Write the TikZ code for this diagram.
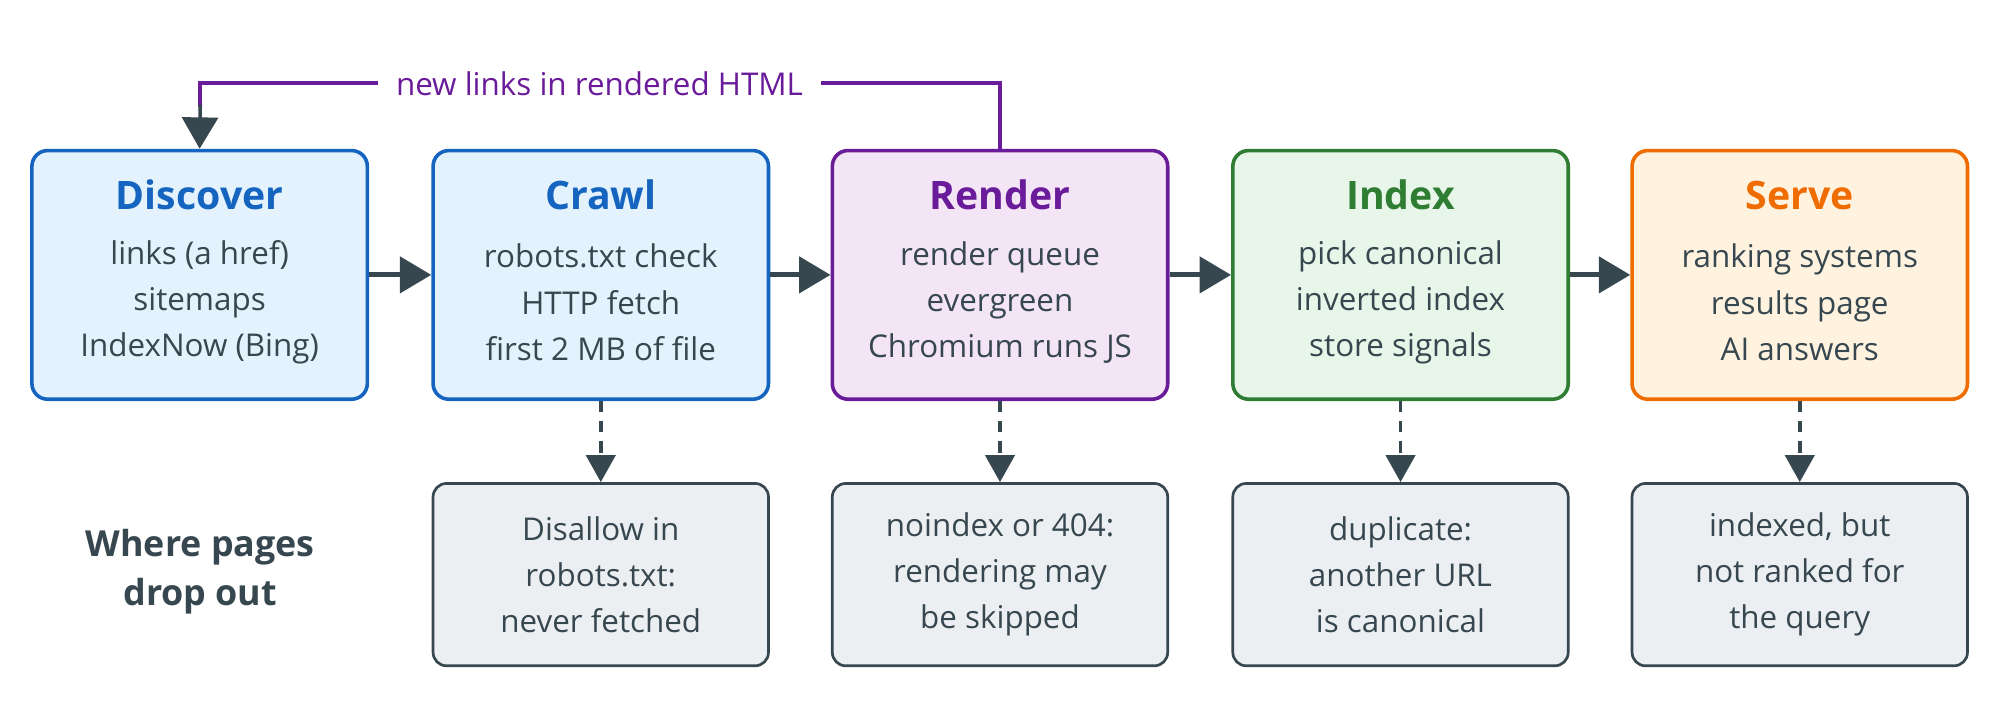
\documentclass[tikz,border=0pt]{standalone}
\usepackage{fontspec}
\setmainfont{Open Sans}
\usetikzlibrary{arrows.meta}
\definecolor{dk}{HTML}{37474F}
\definecolor{bl}{HTML}{1565C0}\definecolor{blf}{HTML}{E3F2FD}
\definecolor{pu}{HTML}{6A1B9A}\definecolor{puf}{HTML}{F3E5F5}
\definecolor{gr}{HTML}{2E7D32}\definecolor{grf}{HTML}{E8F5E9}
\definecolor{or}{HTML}{EF6C00}\definecolor{orf}{HTML}{FFF3E0}
\definecolor{gyf}{HTML}{ECEFF1}
\begin{document}
\begin{tikzpicture}[x=0.02cm,y=-0.02cm,
  stage/.style={draw=#1,line width=1.6pt,rounded corners=7pt,minimum width=5.26cm,minimum height=3.9cm},
  drop/.style={draw=dk,fill=gyf,line width=1.2pt,rounded corners=6pt,minimum width=5.26cm,minimum height=2.86cm,align=center,font=\fontsize{14}{20.6}\selectfont,text=dk},
  ttl/.style={font=\fontsize{17.5}{20}\selectfont\bfseries,text=#1},
  body/.style={align=center,font=\fontsize{14}{20.6}\selectfont,text=dk},
  arr/.style={draw=dk,line width=2.2pt,-{Triangle[length=14pt,width=16pt]}},
  darr/.style={draw=dk,line width=1.6pt,dash pattern=on 5pt off 4pt,-{Triangle[length=12pt,width=13pt]}}]
\useasboundingbox (0,0) rectangle (1568,549);
\foreach \n/\x/\c/\f/\t/\b in {d/156.5/bl/blf/Discover/{links (a href)\\sitemaps\\IndexNow (Bing)},
  c/471/bl/blf/Crawl/{robots.txt check\\HTTP fetch\\first 2 MB of file},
  r/784/pu/puf/Render/{render queue\\evergreen\\Chromium runs JS},
  i/1098/gr/grf/Index/{pick canonical\\inverted index\\store signals},
  s/1411/or/orf/Serve/{ranking systems\\results page\\AI answers}}{
  \node[stage=\c,fill=\f] (\n) at (\x,215.5) {};
  \node[ttl=\c] (\n t) at (\x,153) {\t};
  \node[body] (\n b) at (\x,237) {\b};
}
\draw[arr] (d) -- (c); \draw[arr] (c) -- (r); \draw[arr] (r) -- (i); \draw[arr] (i) -- (s);
\node[drop] (c2) at (471,450.5) {Disallow in\\robots.txt:\\never fetched};
\node[drop] (r2) at (784,450.5) {noindex or 404:\\rendering may\\be skipped};
\node[drop] (i2) at (1098,450.5) {duplicate:\\another URL\\is canonical};
\node[drop] (s2) at (1411,450.5) {indexed, but\\not ranked for\\the query};
\foreach \n in {c,r,i,s}{\draw[darr] (\n) -- (\n2);}
\node[align=center,font=\fontsize{16}{22}\selectfont\bfseries,text=dk] (wp) at (157,448) {Where pages\\drop out};
\draw[draw=pu,line width=1.6pt,fill=none] (r.north) -- (784,65) -- (157,65) -- (157,84);
\draw[draw=dk,line width=1.6pt,-{Triangle[length=14pt,width=16pt]}] (157,82) -- (d.north);
\node[fill=white,text=pu,font=\fontsize{14}{16}\selectfont,inner xsep=8pt] (lbl) at (470,66) {new links in rendered HTML};
\end{tikzpicture}
\end{document}
